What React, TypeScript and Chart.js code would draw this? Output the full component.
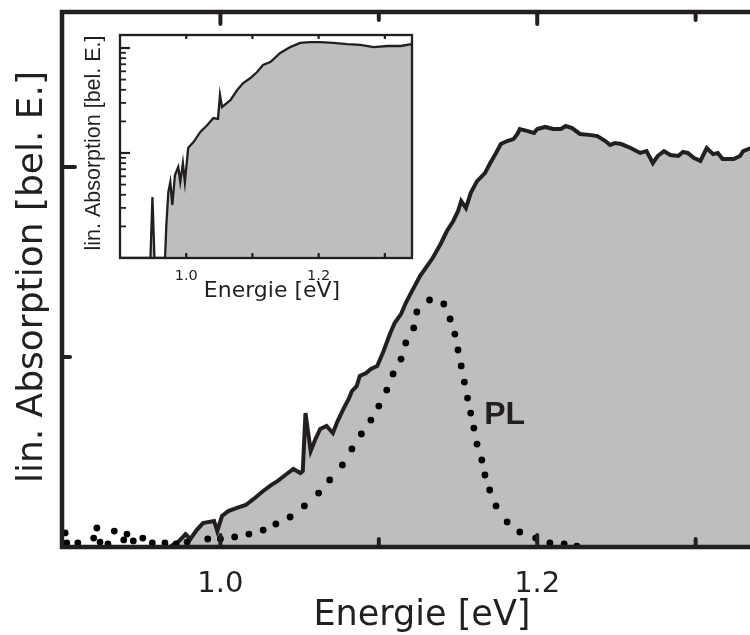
import React, { useEffect, useRef } from 'react';
import { Chart, registerables } from 'chart.js';

Chart.register(...registerables);

// ---------- main panel data ----------
const absEnergy = [
  0.900, 0.968, 0.974, 0.978, 0.981, 0.985, 0.989, 0.996, 0.998, 1.001,
  1.005, 1.010, 1.016, 1.021, 1.027, 1.032, 1.036, 1.041, 1.046, 1.0505,
  1.052, 1.0537, 1.057, 1.060, 1.063, 1.067, 1.071, 1.074, 1.078, 1.081,
  1.083, 1.086, 1.088, 1.092, 1.095, 1.099, 1.103, 1.107, 1.110, 1.114,
  1.117, 1.120, 1.126, 1.134, 1.139, 1.143, 1.147, 1.150, 1.152, 1.155,
  1.158, 1.162, 1.167, 1.170, 1.174, 1.177, 1.181, 1.185, 1.1875, 1.189,
  1.194, 1.198, 1.200, 1.205, 1.210, 1.215, 1.218, 1.222, 1.227, 1.234,
  1.238, 1.243, 1.246, 1.249, 1.253, 1.259, 1.265, 1.269, 1.273, 1.276,
  1.280, 1.284, 1.289, 1.292, 1.295, 1.299, 1.303, 1.307, 1.311, 1.314,
  1.317, 1.324, 1.328, 1.330, 1.335, 1.340,
];
const absValue = [
  0, 0, 0.032, 0.068, 0.042, 0.089, 0.126, 0.137, 0.084, 0.163,
  0.189, 0.205, 0.221, 0.253, 0.295, 0.326, 0.347, 0.379, 0.411, 0.389,
  0.400, 0.705, 0.505, 0.568, 0.621, 0.637, 0.600, 0.663, 0.732, 0.779,
  0.821, 0.847, 0.900, 0.916, 0.937, 0.953, 1.032, 1.121, 1.179, 1.226,
  1.284, 1.332, 1.426, 1.521, 1.595, 1.663, 1.716, 1.768, 1.821, 1.784,
  1.863, 1.926, 1.968, 2.016, 2.074, 2.121, 2.137, 2.147, 2.174, 2.200,
  2.189, 2.179, 2.200, 2.211, 2.200, 2.200, 2.216, 2.205, 2.174, 2.168,
  2.163, 2.137, 2.116, 2.126, 2.121, 2.100, 2.074, 2.084, 2.021, 2.058,
  2.084, 2.063, 2.058, 2.079, 2.074, 2.047, 2.032, 2.100, 2.068, 2.074,
  2.042, 2.042, 2.058, 2.084, 2.100, 2.120,
];
const plEnergy = [
  0.902, 0.903, 0.910, 0.920, 0.922, 0.924, 0.929, 0.933, 0.939, 0.941,
  0.945, 0.951, 0.957, 0.965, 0.972, 0.979,
  0.992, 1.000, 1.009, 1.018, 1.027, 1.035, 1.044, 1.053, 1.062, 1.069,
  1.077, 1.083, 1.089, 1.095, 1.100, 1.105, 1.109, 1.114, 1.117, 1.122,
  1.124, 1.132, 1.141, 1.145, 1.148, 1.150, 1.152, 1.154, 1.156, 1.158,
  1.160, 1.162, 1.165, 1.167, 1.170, 1.174, 1.181, 1.189, 1.199, 1.208,
  1.217, 1.225,
];
const plValue = [
  0.074, 0.021, 0.021, 0.047, 0.100, 0.026, 0.016, 0.084, 0.037, 0.068,
  0.032, 0.047, 0.021, 0.021, 0.016, 0.026,
  0.042, 0.042, 0.053, 0.068, 0.089, 0.121, 0.158, 0.216, 0.284, 0.353,
  0.432, 0.516, 0.595, 0.668, 0.742, 0.826, 0.911, 0.989, 1.074, 1.153,
  1.237, 1.300, 1.279, 1.200, 1.121, 1.037, 0.953, 0.868, 0.784, 0.705,
  0.626, 0.542, 0.458, 0.379, 0.300, 0.216, 0.132, 0.079, 0.047, 0.021,
  0.016, 0.005,
];
const mainXTicks = [1.0, 1.1, 1.2, 1.3];
const mainXTickLabels = ['1.0', '', '1.2', ''];
const mainYTicks = [1, 2];
const mainXTitle = 'Energie [eV]';
const mainYTitle = 'lin. Absorption [bel. E.]';
const plLabel = 'PL';

// ---------- inset data ----------
const insetEnergy = [
  0.900, 0.946, 0.949, 0.952, 0.968, 0.970, 0.973, 0.976, 0.979, 0.983,
  0.988, 0.991, 0.995, 0.998, 1.003, 1.011, 1.021, 1.032, 1.041, 1.048,
  1.051, 1.054, 1.067, 1.077, 1.086, 1.097, 1.107, 1.116, 1.127, 1.142,
  1.157, 1.172, 1.187, 1.203, 1.222, 1.243, 1.263, 1.283, 1.304, 1.324,
  1.340,
];
const insetValue = [
  1, 1, 3.8, 1, 1, 2.06, 4.25, 5.29, 3.2, 6.17,
  7.36, 5.29, 8.03, 5.29, 11.2, 12.7, 15.8, 18.5, 21.5, 21.1,
  35.7, 27.4, 32.0, 39.8, 46.4, 51.8, 59.1, 68.9, 73.6, 89.6,
  102, 112, 114, 114, 112, 109, 107, 102, 104.5, 104.5,
  109,
];
const insetXTicks = [1.0, 1.1, 1.2, 1.3];
const insetXTickLabels = ['1.0', '', '1.2', ''];
const insetYMajor = [10, 100];
const insetYMinor = [2, 3, 4, 5, 6, 7, 8, 9, 20, 30, 40, 50, 60, 70, 80, 90];
const insetXTitle = 'Energie [eV]';
const insetYTitle = 'lin. Absorption [bel. E.]';

const INK = '#231f20';
const FILL = 'rgb(190,190,192)';

const mainAxesPlugin = {
  id: 'mainAxes',
  afterDraw(chart: any) {
    const { ctx, chartArea: a, scales } = chart;
    const x = scales.x;
    const y = scales.y;
    ctx.save();
    ctx.strokeStyle = INK;
    ctx.lineWidth = 4.5;
    ctx.lineCap = 'butt';
    ctx.lineJoin = 'miter';
    ctx.beginPath();
    ctx.moveTo(a.right + 20, a.top);
    ctx.lineTo(a.left, a.top);
    ctx.lineTo(a.left, a.bottom);
    ctx.lineTo(a.right + 20, a.bottom);
    ctx.stroke();

    ctx.lineCap = 'round';
    ctx.lineWidth = 4;
    mainXTicks.forEach((v, i) => {
      const px = x.getPixelForValue(v);
      const len = i % 2 === 0 ? 12 : 8;
      ctx.beginPath();
      ctx.moveTo(px, a.bottom);
      ctx.lineTo(px, a.bottom - len);
      ctx.moveTo(px, a.top);
      ctx.lineTo(px, a.top + len);
      ctx.stroke();
    });
    mainYTicks.forEach((v, i) => {
      const py = y.getPixelForValue(v);
      const len = i === 1 ? 13 : 8;
      ctx.beginPath();
      ctx.moveTo(a.left, py);
      ctx.lineTo(a.left + len, py);
      ctx.stroke();
    });

    ctx.fillStyle = INK;
    ctx.textAlign = 'center';
    ctx.textBaseline = 'alphabetic';
    ctx.font = '29px "DejaVu Sans"';
    mainXTicks.forEach((v, i) => {
      const t = mainXTickLabels[i];
      if (t) ctx.fillText(t, x.getPixelForValue(v), a.bottom + 45);
    });
    ctx.font = '35px "DejaVu Sans"';
    ctx.fillText(mainXTitle, 422, 625);

    ctx.save();
    ctx.translate(42, 277);
    ctx.rotate(-Math.PI / 2);
    ctx.font = '36px "DejaVu Sans"';
    ctx.fillText(mainYTitle, 0, 0);
    ctx.restore();

    ctx.font = 'bold 32px "Liberation Sans", Arial, sans-serif';
    ctx.textAlign = 'left';
    ctx.fillText(plLabel, x.getPixelForValue(1.1665), y.getPixelForValue(0.65));
    ctx.restore();
  },
};

const insetAxesPlugin = {
  id: 'insetAxes',
  afterDraw(chart: any) {
    const { ctx, chartArea: a, scales } = chart;
    const x = scales.x;
    const y = scales.y;
    ctx.save();
    ctx.strokeStyle = INK;
    ctx.lineWidth = 2.3;
    ctx.strokeRect(a.left, a.top, a.right - a.left, a.bottom - a.top);

    ctx.lineWidth = 2.2;
    ctx.lineCap = 'butt';
    insetXTicks.forEach((v) => {
      const px = x.getPixelForValue(v);
      ctx.beginPath();
      ctx.moveTo(px, a.bottom);
      ctx.lineTo(px, a.bottom - 5);
      ctx.moveTo(px, a.top);
      ctx.lineTo(px, a.top + 4);
      ctx.stroke();
    });
    ctx.lineWidth = 1.8;
    insetYMinor.forEach((v) => {
      const py = y.getPixelForValue(v);
      ctx.beginPath();
      ctx.moveTo(a.left, py);
      ctx.lineTo(a.left + 6, py);
      ctx.stroke();
    });
    ctx.lineWidth = 2.2;
    insetYMajor.forEach((v) => {
      const py = y.getPixelForValue(v);
      ctx.beginPath();
      ctx.moveTo(a.left, py);
      ctx.lineTo(a.left + 10, py);
      ctx.stroke();
    });

    ctx.fillStyle = INK;
    ctx.textAlign = 'center';
    ctx.textBaseline = 'alphabetic';
    ctx.font = '14.5px "DejaVu Sans"';
    insetXTicks.forEach((v, i) => {
      const t = insetXTickLabels[i];
      if (t) ctx.fillText(t, x.getPixelForValue(v), a.bottom + 22);
    });
    ctx.font = '22px "DejaVu Sans"';
    ctx.fillText(insetXTitle, 192, 272);

    ctx.save();
    ctx.translate(20, 118);
    ctx.rotate(-Math.PI / 2);
    ctx.font = '21.5px "Liberation Sans", Arial, sans-serif';
    ctx.fillText(insetYTitle, 0, 0);
    ctx.restore();
    ctx.restore();
  },
};

export default function App() {
  const mainRef = useRef<HTMLCanvasElement | null>(null);
  const insetRef = useRef<HTMLCanvasElement | null>(null);

  useEffect(() => {
    const mainChart = new Chart(mainRef.current as HTMLCanvasElement, {
      type: 'line',
      data: {
        datasets: [
          {
            label: 'PL',
            data: plEnergy.map((e, i) => ({ x: e, y: plValue[i] })),
            showLine: false,
            pointRadius: 3.4,
            pointBackgroundColor: '#000',
            pointBorderWidth: 0,
            order: 0,
          },
          {
            label: 'Absorption',
            data: absEnergy.map((e, i) => ({ x: e, y: absValue[i] })),
            borderColor: INK,
            borderWidth: 4,
            backgroundColor: FILL,
            fill: 'origin',
            pointRadius: 0,
            tension: 0,
            order: 1,
          },
        ],
      },
      options: {
        responsive: false,
        animation: false,
        events: [],
        layout: { padding: { left: 62, top: 12, right: 11, bottom: 88 } },
        plugins: { legend: { display: false }, tooltip: { enabled: false } },
        scales: {
          x: { type: 'linear', min: 0.9, max: 1.34, display: false },
          y: { type: 'linear', min: 0, max: 2.816, display: false },
        },
      },
      plugins: [mainAxesPlugin],
    } as any);

    const insetChart = new Chart(insetRef.current as HTMLCanvasElement, {
      type: 'line',
      data: {
        datasets: [
          {
            label: 'Absorption (log)',
            data: insetEnergy.map((e, i) => ({ x: e, y: insetValue[i] })),
            borderColor: INK,
            borderWidth: 2.3,
            backgroundColor: FILL,
            fill: 'start',
            pointRadius: 0,
            tension: 0,
          },
        ],
      },
      options: {
        responsive: false,
        animation: false,
        events: [],
        layout: { padding: { left: 40, top: 10, right: 8, bottom: 52 } },
        plugins: { legend: { display: false }, tooltip: { enabled: false } },
        scales: {
          x: { type: 'linear', min: 0.9, max: 1.341, display: false },
          y: { type: 'logarithmic', min: 1, max: 133, display: false },
        },
      },
      plugins: [insetAxesPlugin],
    } as any);

    return () => {
      mainChart.destroy();
      insetChart.destroy();
    };
  }, []);

  return (
    <div
      style={{
        position: 'absolute',
        left: 0,
        top: 0,
        width: 750,
        height: 635,
        overflow: 'hidden',
        background: '#fff',
      }}
    >
      <canvas
        ref={mainRef}
        width={770}
        height={635}
        style={{ position: 'absolute', left: 0, top: 0 }}
      />
      <canvas
        ref={insetRef}
        width={340}
        height={285}
        style={{ position: 'absolute', left: 80, top: 25 }}
      />
    </div>
  );
}
